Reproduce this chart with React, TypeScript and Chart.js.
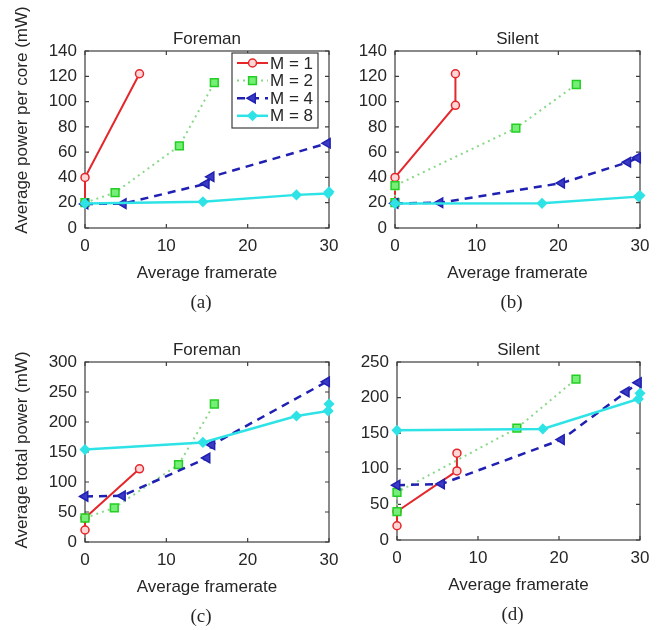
import React, { useEffect, useRef } from "react";
import { Chart, registerables } from "chart.js";

Chart.register(...registerables);

const PAGE_W = 669;
const PAGE_H = 630;

// ---- tick labels ----
const xTickValues = [0, 10, 20, 30];
const perCoreTicks = [0, 20, 40, 60, 80, 100, 120, 140];
const totalTicksForeman = [0, 50, 100, 150, 200, 250, 300];
const totalTicksSilent = [0, 50, 100, 150, 200, 250];

const seriesNames = ["M = 1", "M = 2", "M = 4", "M = 8"];

// ---- (a) Foreman, average power per core ----
const fcM1x = [0, 0, 6.7];
const fcM1y = [20, 40, 122];
const fcM2x = [0, 3.7, 11.6, 15.9];
const fcM2y = [20, 28, 65, 115];
const fcM4x = [0, 4.7, 14.9, 15.5, 29.8];
const fcM4y = [19, 19.3, 35, 40.5, 67];
const fcM8x = [0, 14.5, 26, 29.9, 30];
const fcM8y = [19.3, 20.8, 26.2, 27.3, 28.7];

// ---- (b) Silent, average power per core ----
const scM1x = [0, 0, 7.4, 7.4];
const scM1y = [20, 40, 97, 122];
const scM2x = [0, 0, 14.8, 22.2];
const scM2y = [20, 33.5, 79, 113.5];
const scM4x = [0, 5.5, 20.4, 28.5, 29.7];
const scM4y = [19.5, 20, 35.5, 52, 55.5];
const scM8x = [0, 18, 29.8, 30];
const scM8y = [19.3, 19.5, 24.8, 25.7];

// ---- (c) Foreman, average total power ----
const ftM1x = [0, 0, 6.7];
const ftM1y = [20, 40, 122];
const ftM2x = [0, 3.6, 11.5, 15.9];
const ftM2y = [40, 57, 129, 230];
const ftM4x = [0, 4.6, 15, 15.6, 29.7];
const ftM4y = [76, 77, 140, 162, 267];
const ftM8x = [0, 14.5, 26, 29.9, 30];
const ftM8y = [154, 166, 210, 218.5, 230];

// ---- (d) Silent, average total power ----
const stM1x = [0, 0, 7.4, 7.4];
const stM1y = [20, 40, 97, 122];
const stM2x = [0, 0, 14.8, 22.1];
const stM2y = [40, 67, 157, 226];
const stM4x = [0, 5.5, 20.3, 28.3, 29.8];
const stM4y = [77, 78.7, 141, 208, 221];
const stM8x = [0, 18, 29.8, 30];
const stM8y = [154, 156, 198, 206];

const SANS = '"Liberation Sans", Arial, Helvetica, sans-serif';
const SERIF = '"Liberation Serif", "Times New Roman", serif';
const TEXT = "#262626";
const AXIS = "#3c3c3c";
const Y_AXIS_W = 70;
const X_AXIS_H = 32;

type SeriesStyle = {
  line: string;
  edge: string;
  fill: string;
  dash: number[];
  width: number;
  point: "circle" | "rect" | "triangle" | "rectRot";
  radius: number;
  rotation: number;
};

const seriesStyles: SeriesStyle[] = [
  { line: "#e5262b", edge: "#e5262b", fill: "#ffd6d6", dash: [], width: 2, point: "circle", radius: 4, rotation: 0 },
  { line: "#8ad88a", edge: "#22cf22", fill: "#77ee77", dash: [2, 4], width: 2, point: "rect", radius: 5.5, rotation: 0 },
  { line: "#2020b2", edge: "#2020b2", fill: "#3a3ac4", dash: [8, 6], width: 2.5, point: "triangle", radius: 5.5, rotation: -90 },
  { line: "#2ee3e6", edge: "#2ee3e6", fill: "#2ee3e6", dash: [], width: 2.5, point: "rectRot", radius: 4.5, rotation: 0 },
];

type Panel = {
  rect: [number, number, number, number];
  yMax: number;
  yTicks: number[];
  title: string;
  yTitle: string | null;
  yTitleCenter: number;
  label: string;
  legend: boolean;
  xs: number[][];
  ys: number[][];
};

const panels: Panel[] = [
  {
    rect: [85, 51, 329, 228], yMax: 140, yTicks: perCoreTicks, title: "Foreman",
    yTitle: "Average power per core (mW)", yTitleCenter: 120, label: "(a)", legend: true,
    xs: [fcM1x, fcM2x, fcM4x, fcM8x], ys: [fcM1y, fcM2y, fcM4y, fcM8y],
  },
  {
    rect: [395, 51, 640, 228], yMax: 140, yTicks: perCoreTicks, title: "Silent",
    yTitle: null, yTitleCenter: 0, label: "(b)", legend: false,
    xs: [scM1x, scM2x, scM4x, scM8x], ys: [scM1y, scM2y, scM4y, scM8y],
  },
  {
    rect: [85, 362, 329, 542], yMax: 300, yTicks: totalTicksForeman, title: "Foreman",
    yTitle: "Average total power (mW)", yTitleCenter: 450, label: "(c)", legend: false,
    xs: [ftM1x, ftM2x, ftM4x, ftM8x], ys: [ftM1y, ftM2y, ftM4y, ftM8y],
  },
  {
    rect: [397, 362, 640, 540], yMax: 250, yTicks: totalTicksSilent, title: "Silent",
    yTitle: null, yTitleCenter: 0, label: "(d)", legend: false,
    xs: [stM1x, stM2x, stM4x, stM8x], ys: [stM1y, stM2y, stM4y, stM8y],
  },
];

function drawMarker(ctx: CanvasRenderingContext2D, s: SeriesStyle, x: number, y: number) {
  const r = s.radius;
  ctx.beginPath();
  if (s.point === "circle") {
    ctx.arc(x, y, r, 0, Math.PI * 2);
  } else if (s.point === "rect") {
    const h = r * Math.SQRT1_2;
    ctx.rect(x - h, y - h, 2 * h, 2 * h);
  } else if (s.point === "triangle") {
    ctx.moveTo(x - r, y);
    ctx.lineTo(x + r * 0.5, y - r * 0.866);
    ctx.lineTo(x + r * 0.5, y + r * 0.866);
    ctx.closePath();
  } else {
    ctx.moveTo(x, y - r);
    ctx.lineTo(x + r, y);
    ctx.lineTo(x, y + r);
    ctx.lineTo(x - r, y);
    ctx.closePath();
  }
  ctx.setLineDash([]);
  ctx.fillStyle = s.fill;
  ctx.fill();
  ctx.lineWidth = 1.5;
  ctx.strokeStyle = s.edge;
  ctx.stroke();
}

function makeDecor(p: Panel) {
  return {
    id: "decor",
    beforeDatasetsDraw(chart: any) {
      const ctx: CanvasRenderingContext2D = chart.ctx;
      const { left, top, right, bottom } = chart.chartArea;
      const xs = chart.scales.x;
      const ys = chart.scales.y;
      ctx.save();
      ctx.strokeStyle = AXIS;
      ctx.lineWidth = 1.2;
      ctx.setLineDash([]);
      ctx.beginPath();
      for (const v of xTickValues) {
        const px = xs.getPixelForValue(v);
        ctx.moveTo(px, bottom);
        ctx.lineTo(px, bottom - 4);
        ctx.moveTo(px, top);
        ctx.lineTo(px, top + 4);
      }
      for (const v of p.yTicks) {
        const py = ys.getPixelForValue(v);
        ctx.moveTo(left, py);
        ctx.lineTo(left + 4, py);
        ctx.moveTo(right, py);
        ctx.lineTo(right - 4, py);
      }
      ctx.stroke();
      ctx.strokeRect(left, top, right - left, bottom - top);
      ctx.restore();
    },
    afterDraw(chart: any) {
      const ctx: CanvasRenderingContext2D = chart.ctx;
      const { left, top, right, bottom } = chart.chartArea;
      const cx = (left + right) / 2;
      ctx.save();
      ctx.fillStyle = TEXT;
      ctx.textAlign = "center";
      ctx.textBaseline = "middle";
      ctx.font = `17px ${SANS}`;
      ctx.fillText(p.title, cx, top - 12);
      ctx.fillText("Average framerate", cx, bottom + 45);
      ctx.font = `19px ${SERIF}`;
      ctx.fillText(p.label, cx - 6, bottom + 75);
      if (p.yTitle) {
        ctx.font = `17px ${SANS}`;
        ctx.translate(22, p.yTitleCenter);
        ctx.rotate(-Math.PI / 2);
        ctx.fillText(p.yTitle, 0, 0);
        ctx.setTransform(1, 0, 0, 1, 0, 0);
      }
      if (p.legend) {
        const bx = right - 97;
        const by = top + 2;
        const bw = 86;
        const bh = 75;
        ctx.fillStyle = "#ffffff";
        ctx.fillRect(bx, by, bw, bh);
        ctx.strokeStyle = AXIS;
        ctx.lineWidth = 1.2;
        ctx.setLineDash([]);
        ctx.strokeRect(bx, by, bw, bh);
        seriesNames.forEach((name, i) => {
          const s = seriesStyles[i];
          const ly = by + 10 + i * 17.6;
          ctx.beginPath();
          ctx.strokeStyle = s.line;
          ctx.lineWidth = s.width;
          ctx.setLineDash(s.dash);
          ctx.moveTo(bx + 5, ly);
          ctx.lineTo(bx + 36, ly);
          ctx.stroke();
          drawMarker(ctx, s, bx + 20.5, ly);
          ctx.fillStyle = TEXT;
          ctx.font = `17px ${SANS}`;
          ctx.textAlign = "left";
          ctx.textBaseline = "middle";
          ctx.fillText(name, bx + 38, ly + 1);
        });
      }
      ctx.restore();
    },
  };
}

function PanelChart({ panel }: { panel: Panel }) {
  const ref = useRef<HTMLCanvasElement | null>(null);
  useEffect(() => {
    if (!ref.current) return;
    const [L, T, R, B] = panel.rect;
    const datasets = seriesNames.map((name, i) => {
      const s = seriesStyles[i];
      return {
        label: name,
        data: panel.xs[i].map((x, k) => ({ x, y: panel.ys[i][k] })),
        borderColor: s.line,
        borderWidth: s.width,
        borderDash: s.dash,
        pointStyle: s.point,
        pointRadius: s.radius,
        pointRotation: s.rotation,
        pointBackgroundColor: s.fill,
        pointBorderColor: s.edge,
        pointBorderWidth: 1.5,
        showLine: true,
        fill: false,
        tension: 0,
        clip: false as const,
        order: 3 - i,
      };
    });
    const tickFont = { family: SANS, size: 17 };
    const chart = new Chart(ref.current, {
      type: "scatter",
      data: { datasets },
      options: {
        animation: false,
        responsive: false,
        devicePixelRatio: 1,
        events: [],
        layout: {
          padding: { left: L - Y_AXIS_W, top: T, right: PAGE_W - R, bottom: PAGE_H - B - X_AXIS_H },
        },
        plugins: { legend: { display: false }, tooltip: { enabled: false }, title: { display: false } },
        scales: {
          x: {
            type: "linear",
            min: 0,
            max: 30,
            grid: { display: false, drawTicks: false },
            border: { display: false },
            ticks: { stepSize: 10, padding: 8, font: tickFont, color: TEXT, maxRotation: 0 },
            afterFit: (sc: any) => {
              sc.height = X_AXIS_H;
              sc.paddingLeft = 0;
              sc.paddingRight = 0;
            },
          },
          y: {
            type: "linear",
            min: 0,
            max: panel.yMax,
            grid: { display: false, drawTicks: false },
            border: { display: false },
            ticks: { stepSize: panel.yTicks[1] - panel.yTicks[0], padding: 8, font: tickFont, color: TEXT },
            afterFit: (sc: any) => {
              sc.width = Y_AXIS_W;
              sc.paddingTop = 0;
              sc.paddingBottom = 0;
            },
          },
        },
      },
      plugins: [makeDecor(panel)],
    } as any);
    return () => chart.destroy();
  }, [panel]);
  return (
    <canvas
      ref={ref}
      width={PAGE_W}
      height={PAGE_H}
      style={{ position: "absolute", left: 0, top: 0, width: PAGE_W, height: PAGE_H }}
    />
  );
}

export default function App() {
  return (
    <div style={{ position: "absolute", left: 0, top: 0, width: PAGE_W, height: PAGE_H, background: "#ffffff" }}>
      {panels.map((p, i) => (
        <PanelChart key={i} panel={p} />
      ))}
    </div>
  );
}
